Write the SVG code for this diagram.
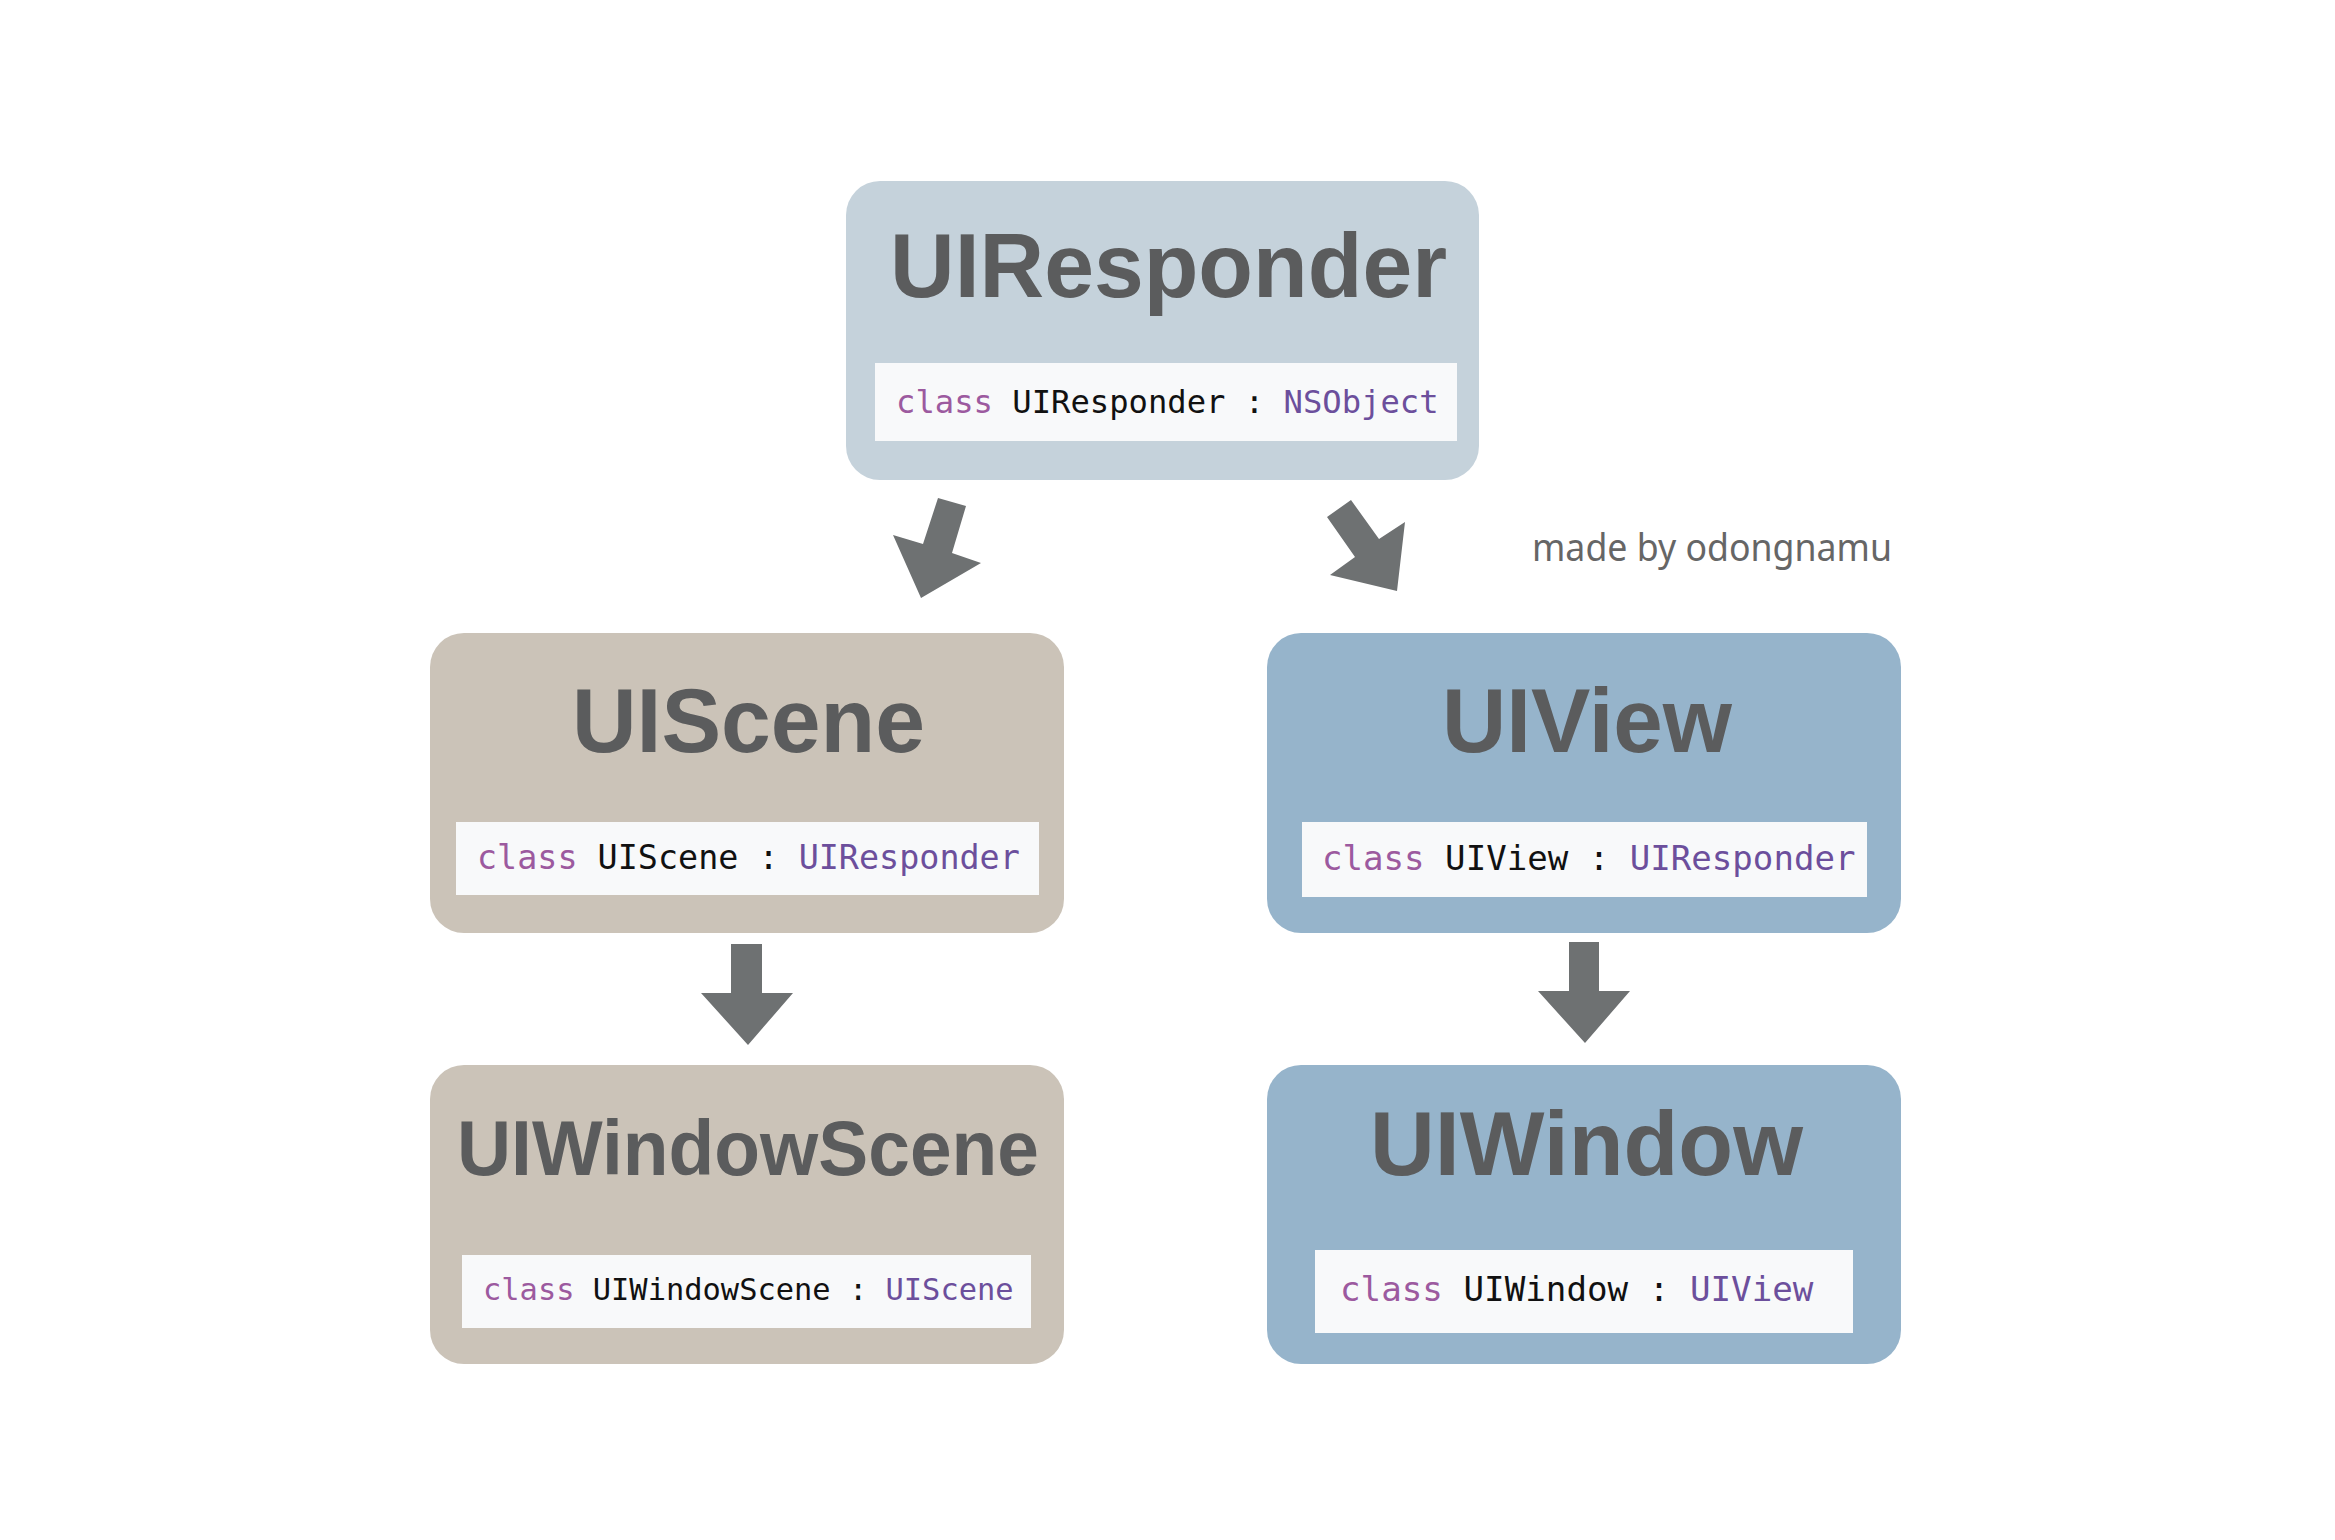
<svg xmlns="http://www.w3.org/2000/svg" width="2335" height="1540" viewBox="0 0 2335 1540">
<style>
.box{stroke:none}
.b1{fill:#C5D2DB}
.b2{fill:#CBC3B8}
.b3{fill:#96B4CB}
.code{fill:#F8F9FA}
.title{font-family:"Liberation Sans",Arial,sans-serif;font-weight:bold;fill:#5B5C5D;text-anchor:start}
.ct{font-family:"DejaVu Sans Mono","Liberation Mono",monospace;fill:#111111}
.kw{fill:#9C5A9F}
.ty{fill:#6C4F9C}
.arrow{fill:#6E7172}
.sig{font-family:"Noto Sans","Open Sans",sans-serif;font-size:38px;fill:#666666}
</style>
<rect width="2335" height="1540" fill="#FFFFFF"/>
<g id="connectors">
<polygon class="arrow" points="938,498 966,506 952,553 981,563 921,598 893,535 923,544"/>
<polygon class="arrow" points="1351,500 1379,539 1405,522 1397,591 1330,575 1355,557 1327,517"/>
<polygon class="arrow" points="731,944 762,944 762,993 793,993 748,1045 701,993 731,993"/>
<polygon class="arrow" points="1569,942 1599,942 1599,991 1630,991 1585,1043 1538,991 1569,991"/>
</g>
<g id="node-uiresponder">
<rect class="box b1" x="846" y="181" width="633" height="299" rx="34"/>
<text class="title" x="890" y="297" font-size="91" textLength="557" lengthAdjust="spacingAndGlyphs">UIResponder</text>
<rect class="code" x="875" y="363" width="582" height="78"/>
<text class="ct" x="896" y="413" font-size="32.2"><tspan class="kw">class</tspan> UIResponder : <tspan class="ty">NSObject</tspan></text>
</g>
<g id="node-uiscene">
<rect class="box b2" x="430" y="633" width="634" height="300" rx="34"/>
<text class="title" x="572" y="752" font-size="91" textLength="353" lengthAdjust="spacingAndGlyphs">UIScene</text>
<rect class="code" x="456" y="822" width="583" height="73"/>
<text class="ct" x="477" y="869" font-size="33.4"><tspan class="kw">class</tspan> UIScene : <tspan class="ty">UIResponder</tspan></text>
</g>
<g id="node-uiview">
<rect class="box b3" x="1267" y="633" width="634" height="300" rx="34"/>
<text class="title" x="1442" y="752" font-size="91" textLength="290" lengthAdjust="spacingAndGlyphs">UIView</text>
<rect class="code" x="1302" y="822" width="565" height="75"/>
<text class="ct" x="1322" y="870" font-size="34.1"><tspan class="kw">class</tspan> UIView : <tspan class="ty">UIResponder</tspan></text>
</g>
<g id="node-uiwindowscene">
<rect class="box b2" x="430" y="1065" width="634" height="299" rx="34"/>
<text class="title" x="457" y="1175" font-size="78" textLength="582" lengthAdjust="spacingAndGlyphs">UIWindowScene</text>
<rect class="code" x="462" y="1255" width="569" height="73"/>
<text class="ct" x="483" y="1300" font-size="30.4"><tspan class="kw">class</tspan> UIWindowScene : <tspan class="ty">UIScene</tspan></text>
</g>
<g id="node-uiwindow">
<rect class="box b3" x="1267" y="1065" width="634" height="299" rx="34"/>
<text class="title" x="1370" y="1175" font-size="91" textLength="433" lengthAdjust="spacingAndGlyphs">UIWindow</text>
<rect class="code" x="1315" y="1250" width="538" height="83"/>
<text class="ct" x="1340" y="1301" font-size="34.2"><tspan class="kw">class</tspan> UIWindow : <tspan class="ty">UIView</tspan></text>
</g>
<g id="signature">
<text class="sig" x="1532" y="561" textLength="360" lengthAdjust="spacingAndGlyphs">made by odongnamu</text>
</g>
</svg>
